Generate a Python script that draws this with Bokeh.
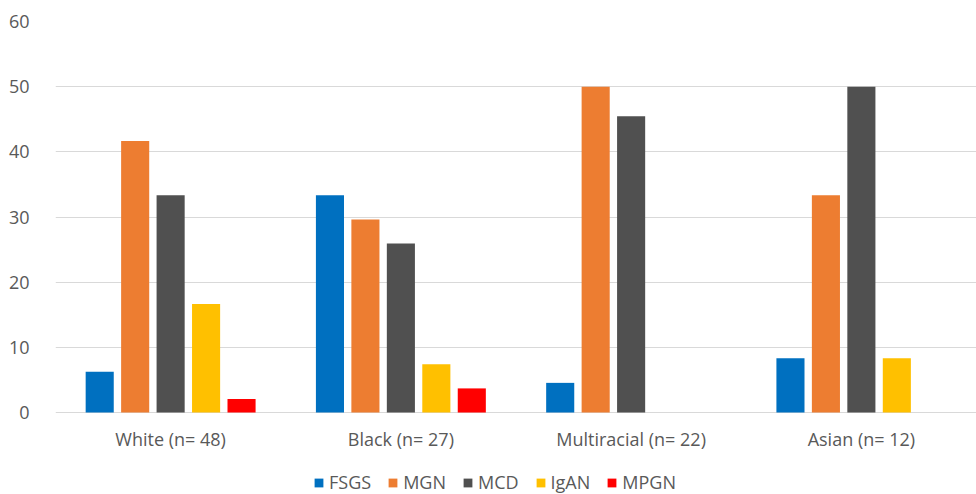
from bokeh.plotting import figure
from bokeh.models import ColumnDataSource, FactorRange, Range1d, Legend, LegendItem
from bokeh.transform import dodge
from bokeh.core.properties import value
from bokeh.embed import file_html
from bokeh.resources import INLINE

groups = ["White (n= 48)", "Black (n= 27)", "Multiracial (n= 22)", "Asian (n= 12)"]
series = ["FSGS", "MGN", "MCD", "IgAN", "MPGN"]
fsgs = [6.25, 33.33, 4.55, 8.33]
mgn = [41.67, 29.63, 50.0, 33.33]
mcd = [33.33, 25.93, 45.45, 50.0]
igan = [16.67, 7.41, 0.0, 8.33]
mpgn = [2.08, 3.70, 0.0, 0.0]
colors = ["#0070C0", "#ED7D31", "#505050", "#FFC000", "#FF0000"]
yticks = [0, 10, 20, 30, 40, 50, 60]

src = ColumnDataSource(dict(groups=groups, FSGS=fsgs, MGN=mgn, MCD=mcd, IgAN=igan, MPGN=mpgn))

# frame spans the full lower area so the legend and category labels can sit inside it
p = figure(x_range=FactorRange(*groups, range_padding=0), y_range=Range1d(-12.58, 60),
           width=976, height=494, output_backend="svg", toolbar_location=None,
           x_axis_location=None,
           min_border_left=55, min_border_right=0, min_border_top=21, min_border_bottom=0)
p.outline_line_color = None
p.background_fill_color = "white"

offsets = [-0.308, -0.154, 0.0, 0.154, 0.308]
items = []
for s, c, off in zip(series, colors, offsets):
    r = p.vbar(x=dodge("groups", off, range=p.x_range), top=s, width=0.122, source=src,
               fill_color=c, line_color=None)
    items.append(LegendItem(label=s, renderers=[r]))

tick_font = "Open Sans"
p.text(x="groups", y=0, text="groups", source=src, y_offset=26,
       text_align="center", text_baseline="middle", text_font=value(tick_font),
       text_font_size="18px", text_color="#595959")

p.yaxis.ticker = yticks
p.yaxis.axis_line_color = None
p.yaxis.major_tick_line_color = None
p.yaxis.minor_tick_line_color = None
p.yaxis.major_label_standoff = 20
p.yaxis.major_label_text_font = tick_font
p.yaxis.major_label_text_font_size = "18px"
p.yaxis.major_label_text_color = "#595959"

p.xgrid.grid_line_color = None
p.ygrid.ticker = yticks
p.ygrid.grid_line_color = "#d9d9d9"
p.ygrid.grid_line_width = 1

legend = Legend(items=items, orientation="horizontal", location=(258, 0),
                glyph_width=11, glyph_height=11, label_text_font=tick_font,
                label_text_font_size="18px", label_text_color="#595959",
                label_height=20, spacing=16, padding=0, margin=0, label_standoff=5,
                border_line_color=None, background_fill_alpha=0)
p.add_layout(legend, "center")

open("out.html", "w").write(file_html(p, INLINE))
